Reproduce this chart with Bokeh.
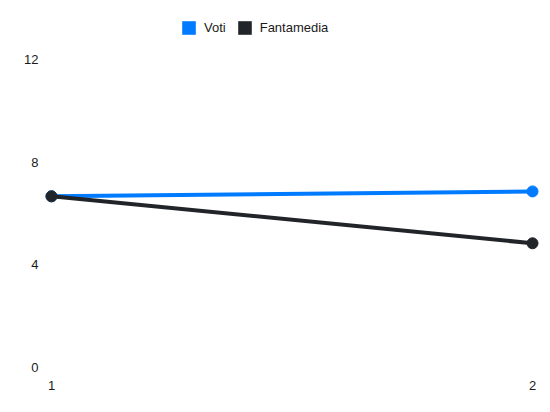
from bokeh.plotting import figure
from bokeh.models import Range1d, FixedTicker, Legend, LegendItem
from bokeh.embed import file_html
from bokeh.resources import INLINE

giornate = [1, 2]
voti = [6.67, 6.86]
fantamedia = [6.67, 4.84]
y_ticks = [0, 4, 8, 12]
series_names = ["Voti", "Fantamedia"]
colors = ["#007bff", "#212529"]

FONT = "Liberation Sans"

p = figure(width=542, height=404, output_backend="svg", toolbar_location=None,
           x_range=Range1d(0.98337, 2.01663), y_range=Range1d(-0.3117, 14.299),
           min_border_left=43, min_border_right=2, min_border_top=0, min_border_bottom=29)
p.outline_line_color = None
p.xgrid.visible = False
p.ygrid.visible = False
p.background_fill_color = "white"
p.border_fill_color = "white"

for ax, ticks, standoff in ((p.xaxis[0], giornate, 5), (p.yaxis[0], y_ticks, 5)):
    ax.ticker = FixedTicker(ticks=ticks)
    ax.axis_line_color = None
    ax.major_tick_line_color = None
    ax.minor_tick_line_color = None
    ax.major_tick_out = 0
    ax.major_tick_in = 0
    ax.major_label_standoff = standoff
    ax.major_label_text_font = FONT
    ax.major_label_text_font_size = "13px"
    ax.major_label_text_color = "#1a1a1a"

renderers = []
for vals, col in ((voti, colors[0]), (fantamedia, colors[1])):
    p.line(giornate, vals, line_color=col, line_width=4)
    p.scatter(giornate, vals, size=11, fill_color=col, line_color=col)
    # zero-area swatch renderer used only for the legend square
    sw = p.block(x=giornate, y=vals, width=0, height=0, fill_color=col, line_color=None)
    renderers.append(sw)

legend = Legend(items=[LegendItem(label=n, renderers=[r]) for n, r in zip(series_names, renderers)],
                orientation="horizontal", location=(137, 339))
legend.margin = 0
legend.padding = 0
legend.spacing = 10
legend.glyph_width = 17
legend.glyph_height = 17
legend.label_standoff = 7
legend.label_text_font = FONT
legend.label_text_font_size = "13px"
legend.label_text_color = "#1a1a1a"
legend.border_line_color = None
legend.background_fill_alpha = 0
p.add_layout(legend, "center")

open("out.html", "w").write(file_html(p, INLINE))
